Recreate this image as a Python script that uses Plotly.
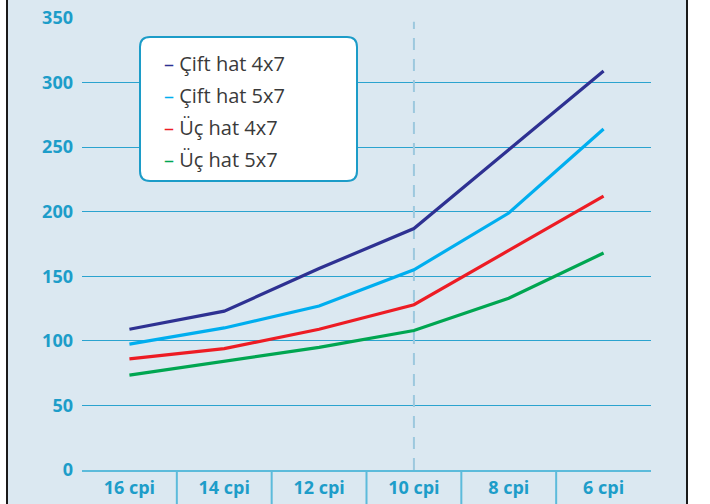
import plotly.graph_objects as go

categories = ["16 cpi", "14 cpi", "12 cpi", "10 cpi", "8 cpi", "6 cpi"]
series_names = ["Çift hat 4x7", "Çift hat 5x7", "Üç hat 4x7", "Üç hat 5x7"]
cift_4x7 = [109, 123, 156, 187, 248, 309]
cift_5x7 = [97.5, 110, 127, 155, 199, 264]
uc_4x7 = [86, 94, 109, 128, 170, 212]
uc_5x7 = [73.5, 84, 95, 108, 133, 168]
series_values = [cift_4x7, cift_5x7, uc_4x7, uc_5x7]
series_colors = ["#2e3192", "#00aeef", "#ed1c24", "#00a651"]
y_ticks = [0, 50, 100, 150, 200, 250, 300, 350]
marked_category = "10 cpi"

W, H = 710, 504
ML, MR, MT, MB = 82, 59, 18, 34
PW, PH = W - ML - MR, H - MT - MB


def px_x(p):
    return (p - ML) / PW


def px_y(q):
    return (H - MB - q) / PH


BG = "#dbe8f1"
GRID = "#2ba3cf"
AXIS_LIGHT = "#5cbbdb"
LABEL = "#1d9dc9"

fig = go.Figure()
for name, vals, col in zip(series_names, series_values, series_colors):
    fig.add_trace(go.Scatter(x=categories, y=vals, mode="lines", name=name,
                             line=dict(color=col, width=3.2), showlegend=False,
                             hoverinfo="skip"))

shapes = []
# panel background and side borders
shapes.append(dict(type="rect", xref="paper", yref="paper",
                   x0=px_x(7), x1=px_x(687), y0=px_y(H + 10), y1=px_y(-10),
                   fillcolor=BG, line=dict(width=0), layer="below"))
for xp in (7, 687):
    shapes.append(dict(type="line", xref="paper", yref="paper",
                       x0=px_x(xp), x1=px_x(xp), y0=px_y(H + 10), y1=px_y(-10),
                       line=dict(color="#1a1a1a", width=2), layer="above"))
# category separators below the axis
for i in range(len(categories) - 1):
    shapes.append(dict(type="line", xref="x", yref="paper",
                       x0=i + 0.5, x1=i + 0.5, y0=0, y1=px_y(H + 10),
                       line=dict(color=AXIS_LIGHT, width=2), layer="above"))
# dashed marker line
shapes.append(dict(type="line", xref="x", yref="y",
                   x0=marked_category, x1=marked_category, y0=0, y1=347,
                   line=dict(color="#9dc8de", width=2, dash="12px,9px"),
                   layer="between"))
# rounded legend box
x0, x1, y0, y1, r = 140, 357, 37, 181, 10
rx, ry = r / PW, r / PH
X0, X1, Y0, Y1 = px_x(x0), px_x(x1), px_y(y0), px_y(y1)
path = (f"M {X0+rx},{Y0} L {X1-rx},{Y0} Q {X1},{Y0} {X1},{Y0-ry} "
        f"L {X1},{Y1+ry} Q {X1},{Y1} {X1-rx},{Y1} "
        f"L {X0+rx},{Y1} Q {X0},{Y1} {X0},{Y1+ry} "
        f"L {X0},{Y0-ry} Q {X0},{Y0} {X0+rx},{Y0} Z")
shapes.append(dict(type="path", xref="paper", yref="paper", path=path,
                   fillcolor="white", line=dict(color="#1c9cc8", width=2),
                   layer="above"))

annotations = []
row_y = [63.7, 95.7, 127.7, 159.7]
for name, col, ry_ in zip(series_names, series_colors, row_y):
    annotations.append(dict(
        xref="paper", yref="paper", x=px_x(162), y=px_y(ry_),
        xanchor="left", yanchor="middle", showarrow=False,
        text=f"<span style='color:{col}'>–</span> {name}",
        font=dict(family="Open Sans", size=20, color="#3a3a3a")))

fig.update_layout(
    width=W, height=H,
    margin=dict(l=ML, r=MR, t=MT, b=MB, pad=0, autoexpand=False),
    paper_bgcolor="white", plot_bgcolor=BG,
    shapes=shapes, annotations=annotations,
    font=dict(family="Open Sans", size=18, color=LABEL),
    hovermode=False,
    xaxis=dict(type="category", range=[-0.5, 5.5], showgrid=False,
               automargin=False,
               showline=True, linecolor=AXIS_LIGHT, linewidth=2,
               ticks="", tickfont=dict(family="Open Sans", size=18,
                                       color=LABEL, weight="bold"),
               fixedrange=True),
    yaxis=dict(range=[0, 350], tickvals=y_ticks, showgrid=True,
               automargin=False, fixedrange=True,
               gridcolor=GRID, gridwidth=1.3, zeroline=False,
               showline=False, ticks="",
               tickfont=dict(family="Open Sans", size=18, color=LABEL,
                             weight="bold"),
               ticklabelstandoff=8),
)

fig.write_html("out.html", config={"displayModeBar": False},
               post_script="document.body.style.margin='0';"
                           "document.body.style.overflow='hidden';")
